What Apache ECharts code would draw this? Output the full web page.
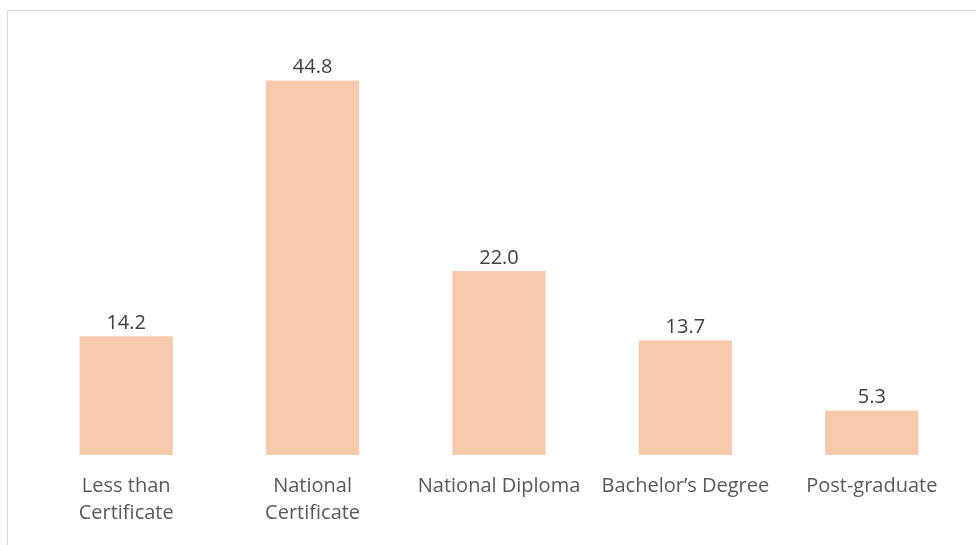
<!DOCTYPE html>
<html>
<head>
<meta charset="utf-8">
<script src="https://cdn.jsdelivr.net/npm/echarts@6/dist/echarts.min.js"></script>
<style>
html,body{margin:0;padding:0;background:#fff;}
#chart{width:976px;height:545px;}
</style>
</head>
<body>
<div id="chart"></div>
<script>
const categories = ["Less than\nCertificate", "National\nCertificate", "National Diploma", "Bachelor’s Degree", "Post-graduate"];
const values = [14.2, 44.8, 22.0, 13.7, 5.3];

const chart = echarts.init(document.getElementById('chart'));
chart.setOption({
  animation: false,
  backgroundColor: '#fff',
  graphic: [{
    type: 'rect',
    shape: {x: 7.5, y: 10.5, width: 990, height: 560},
    style: {fill: 'none', stroke: '#d9d9d9', lineWidth: 1},
    silent: true
  }],
  grid: {left: 33, right: 11, top: 37, bottom: 90, containLabel: false},
  xAxis: {
    type: 'category',
    data: categories,
    axisLine: {show: false},
    axisTick: {show: false},
    axisLabel: {
      interval: 0,
      margin: 18,
      color: '#595959',
      fontFamily: 'Open Sans',
      fontSize: 20,
      lineHeight: 27
    }
  },
  yAxis: {
    type: 'value',
    min: 0, max: 50,
    show: false,
    splitLine: {show: false}
  },
  series: [{
    type: 'bar',
    data: values,
    barWidth: '50%',
    itemStyle: {color: '#F7CAAC'},
    label: {
      show: true,
      position: 'top',
      distance: 3,
      formatter: p => p.value.toFixed(1),
      color: '#404040',
      fontFamily: 'Open Sans',
      fontSize: 20
    }
  }]
});
</script>
</body>
</html>
